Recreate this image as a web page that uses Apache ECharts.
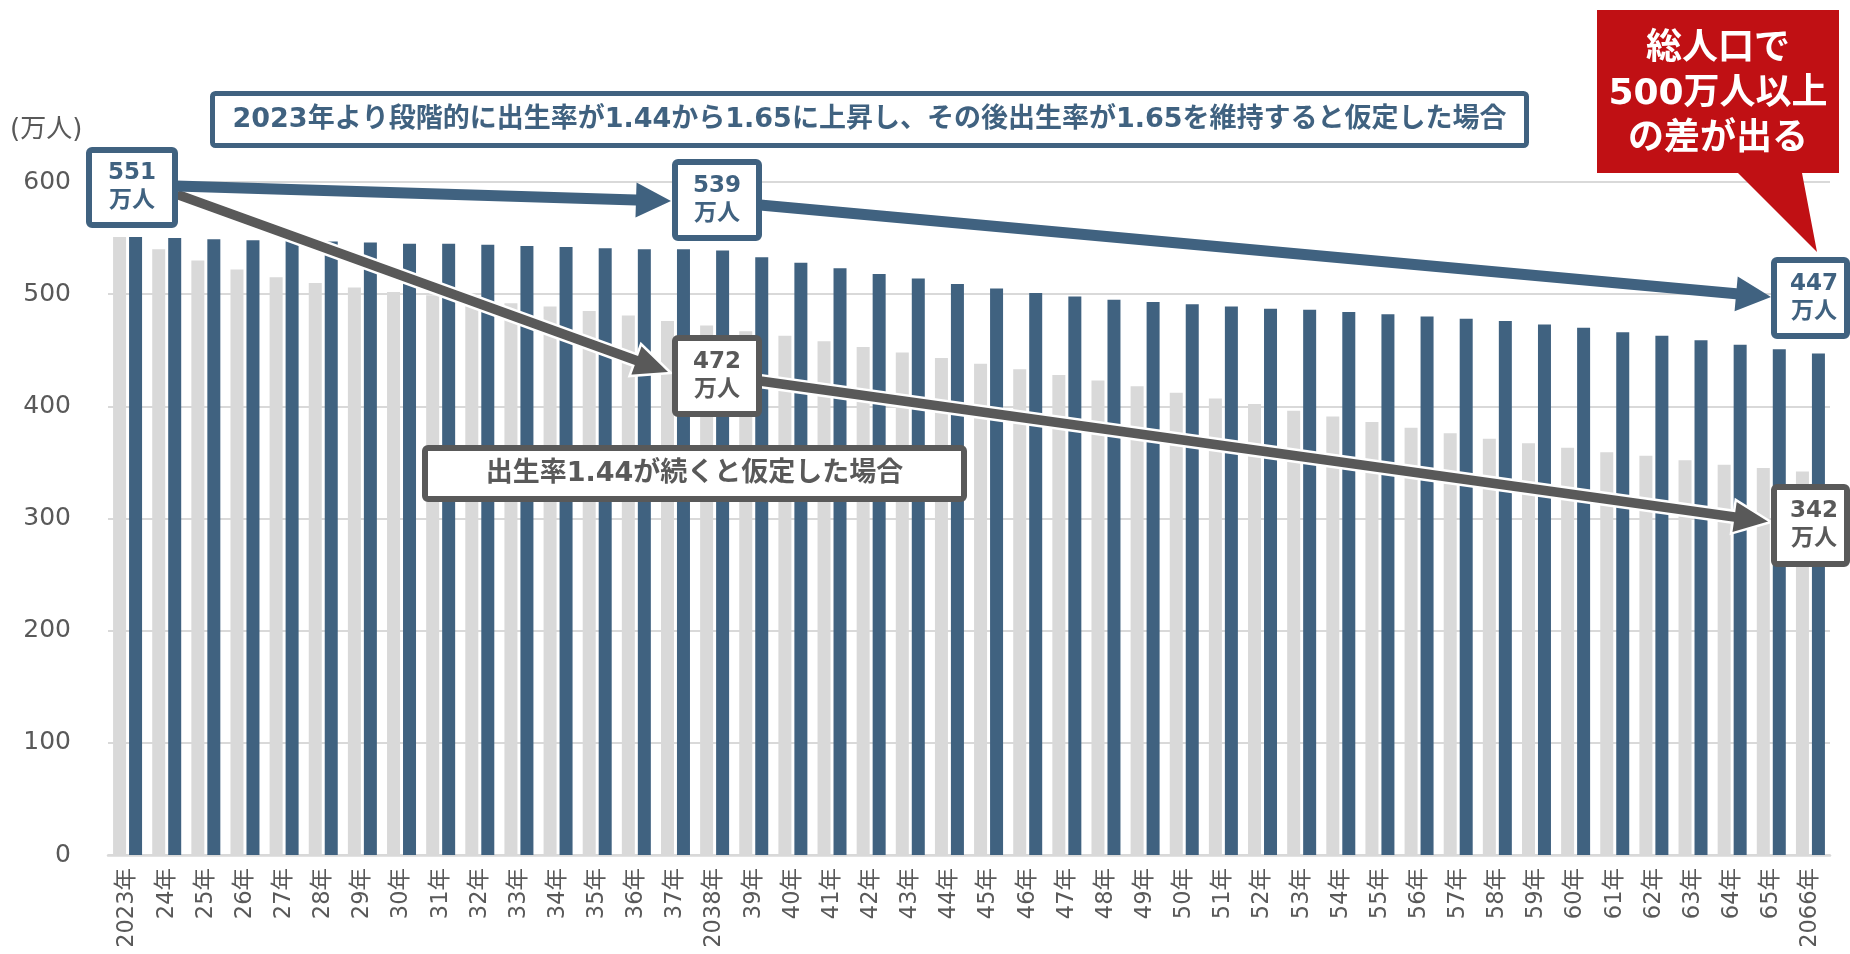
<!DOCTYPE html>
<html>
<head>
<meta charset="utf-8">
<script src="https://cdn.jsdelivr.net/npm/echarts@6/dist/echarts.min.js"></script>
<style>
html,body{margin:0;padding:0;background:#fff;}
#chart{width:1850px;height:954px;}
</style>
</head>
<body>
<div id="chart"></div>
<script>
// 年次ラベル（横軸）
const years = [
  '2023年','24年','25年','26年','27年','28年','29年','30年','31年','32年','33年','34年','35年','36年','37年',
  '2038年','39年','40年','41年','42年','43年','44年','45年','46年','47年','48年','49年','50年','51年','52年',
  '53年','54年','55年','56年','57年','58年','59年','60年','61年','62年','63年','64年','65年','2066年'
];

// 出生率1.44が続く場合の人口（万人）
const rate144 = [
  551,540,530,522,515,510,506,502,499,495,492,489,485,481,476,
  472,467,463,458,453,448,443,438,433,428,423,418,412,407,402,
  396,391,386,381,376,371,367,363,359,356,352,348,345,342
];

// 出生率が1.65へ上昇し維持される場合の人口（万人）
const rate165 = [
  551,550,549,548,548,547,546,545,545,544,543,542,541,540,540,
  539,533,528,523,518,514,509,505,501,498,495,493,491,489,487,
  486,484,482,480,478,476,473,470,466,463,459,455,451,447
];

// 縦軸の目盛
const yTicks = [0,100,200,300,400,500,600];

const BLUE = '#406280';
const LIGHT = '#d9d9d9';
const DARK = '#595959';
const RED = '#c01014';
const FONT = "'DejaVu Sans','Noto Sans CJK JP',sans-serif";

const chart = echarts.init(document.getElementById('chart'), null, {renderer: 'canvas'});

chart.setOption({
  animation: false,
  backgroundColor: '#fff',
  grid: {left: 108, right: 20, top: 182, bottom: 99, containLabel: false},
  xAxis: {
    type: 'category',
    data: years,
    axisLine: {lineStyle: {color: LIGHT, width: 2.5}},
    axisTick: {show: false},
    axisLabel: {
      rotate: 90, interval: 0, margin: 13,
      color: DARK, fontSize: 22.5, fontFamily: FONT
    }
  },
  yAxis: {
    type: 'value',
    min: yTicks[0], max: yTicks[yTicks.length - 1], interval: yTicks[1] - yTicks[0],
    axisLine: {show: false},
    axisTick: {show: false},
    axisLabel: {color: DARK, fontSize: 25, fontFamily: FONT, margin: 37},
    splitLine: {lineStyle: {color: LIGHT, width: 2}}
  },
  series: [
    {
      name: '出生率1.44', type: 'bar', data: rate144,
      barWidth: 13, barGap: '23%',
      itemStyle: {color: LIGHT}
    },
    {
      name: '出生率1.65', type: 'bar', data: rate165,
      barWidth: 13, barGap: '23%',
      itemStyle: {color: BLUE}
    }
  ]
});

// 矢印（軸＋三角の先端）を多角形で作る
function arrowPoints(s, t, shaft, headLen, headW) {
  const dx = t[0] - s[0], dy = t[1] - s[1];
  const len = Math.hypot(dx, dy);
  const ux = dx / len, uy = dy / len;
  const nx = -uy, ny = ux;
  const bx = t[0] - ux * headLen, by = t[1] - uy * headLen;
  const p = (x, y, k) => [x + nx * k, y + ny * k];
  return [
    p(s[0], s[1], shaft / 2), p(bx, by, shaft / 2), p(bx, by, headW / 2),
    t,
    p(bx, by, -headW / 2), p(bx, by, -shaft / 2), p(s[0], s[1], -shaft / 2)
  ];
}

function arrow(s, t, color, outline, shaft, headLen, headW, z) {
  return {
    type: 'polygon', z: z,
    shape: {points: arrowPoints(s, t, shaft, headLen, headW)},
    style: outline
      ? {fill: color, stroke: '#fff', lineWidth: 2.5, lineJoin: 'miter'}
      : {fill: color}
  };
}

// 枠付きテキストボックス（外寸で指定）
function framedBox(x, y, w, h, border, bw, text, font, color, lineHeight, textX, z) {
  return [
    {
      type: 'rect', z: z,
      shape: {x: x + bw / 2, y: y + bw / 2, width: w - bw, height: h - bw, r: 3},
      style: {fill: '#fff', stroke: border, lineWidth: bw}
    },
    {
      type: 'text', z: z + 1,
      style: {
        text: text, x: textX != null ? textX : x + w / 2, y: y + h / 2,
        align: 'center', verticalAlign: 'middle',
        font: font, fill: color, lineHeight: lineHeight
      }
    }
  ];
}

const idx2038 = years.indexOf('2038年');
const last = years.length - 1;
const valueLabel = v => v + '\n万人';
const labelFont = 'bold 23px ' + FONT;

const elements = [];

// 単位
elements.push({
  type: 'text', z: 5,
  style: {text: '(万人)', x: 10, y: 130, verticalAlign: 'middle',
          font: '26px ' + FONT, fill: DARK}
});

// 矢印
elements.push(arrow([176, 194], [671, 373], DARK, true, 12, 38, 34, 10));
elements.push(arrow([760, 381], [1771, 522], DARK, true, 12, 38, 34, 10));
elements.push(arrow([176, 186], [671, 201], BLUE, false, 11, 35, 35, 11));
elements.push(arrow([760, 205], [1771, 297], BLUE, false, 11, 35, 35, 11));

// 数値ボックス
elements.push(...framedBox(86, 147, 92, 81, BLUE, 6, valueLabel(rate165[0]), labelFont, BLUE, 28, null, 20));
elements.push(...framedBox(672, 159, 90, 82, BLUE, 6, valueLabel(rate165[idx2038]), labelFont, BLUE, 28, null, 20));
elements.push(...framedBox(672, 335, 90, 82, DARK, 6, valueLabel(rate144[idx2038]), labelFont, DARK, 28, null, 20));
elements.push(...framedBox(1771, 257, 79, 82, BLUE, 6, valueLabel(rate165[last]), labelFont, BLUE, 28, 1814, 20));
elements.push(...framedBox(1771, 484, 79, 83, DARK, 6, valueLabel(rate144[last]), labelFont, DARK, 28, 1814, 20));

// シナリオ説明
elements.push(...framedBox(210, 91, 1319, 57, BLUE, 5,
  '2023年より段階的に出生率が1.44から1.65に上昇し、その後出生率が1.65を維持すると仮定した場合',
  'bold 27px ' + FONT, BLUE, 32, null, 20));
elements.push(...framedBox(422, 445, 545, 57, DARK, 6,
  '出生率1.44が続くと仮定した場合',
  'bold 27px ' + FONT, DARK, 32, null, 20));

// 吹き出し
elements.push({
  type: 'polygon', z: 30,
  shape: {points: [[1597, 10], [1839, 10], [1839, 173], [1802, 173], [1817, 252], [1738, 173], [1597, 173]]},
  style: {fill: RED}
});
elements.push({
  type: 'text', z: 31,
  style: {
    text: '総人口で\n500万人以上\nの差が出る',
    x: 1718, y: 95, align: 'center', verticalAlign: 'middle',
    font: 'bold 36px ' + FONT, fill: '#fff', lineHeight: 45
  }
});

chart.setOption({graphic: {elements: elements}});
</script>
</body>
</html>
